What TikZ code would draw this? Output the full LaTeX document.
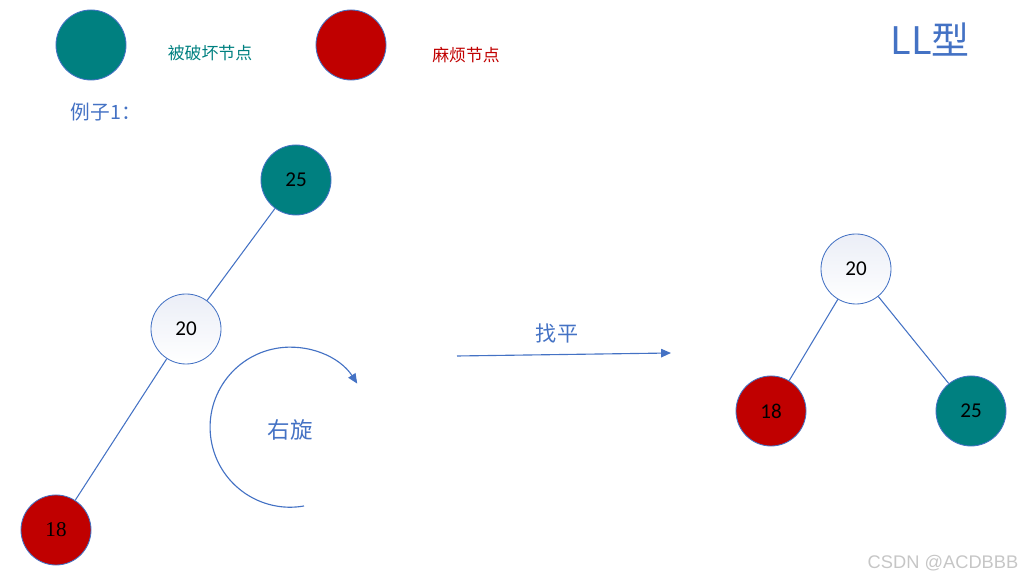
\documentclass[tikz,border=0pt]{standalone}
\usepackage{fontspec}
\setmainfont{Carlito}
\newfontfamily\cjk{Noto Sans CJK SC}
\newfontfamily\numserif{Liberation Serif}
\newfontfamily\wmfont{Liberation Sans}
\usetikzlibrary{arrows.meta,positioning}

\definecolor{broken}{HTML}{008080}
\definecolor{trouble}{HTML}{C00000}
\definecolor{lineblue}{HTML}{4472C4}
\definecolor{paleblue}{HTML}{EBEEF7}

\begin{document}
\begin{tikzpicture}[
  x=0.025cm, y=0.025cm,
  >={Triangle[length=7pt, width=6pt]},
  circ/.style={draw=lineblue, line width=0.6pt, circle, minimum size=1.75cm, inner sep=0pt, font=\fontsize{15}{15}\selectfont},
  brokennode/.style={circ, fill=broken},
  troublenode/.style={circ, fill=trouble},
  plainnode/.style={circ, top color=paleblue, bottom color=white},
  edge/.style={draw=lineblue, line width=0.75pt},
  arrow/.style={->, draw=lineblue, line width=0.8pt},
  caption/.style={font=\cjk\fontsize{12}{12}\selectfont}
]
  \useasboundingbox (0,0) rectangle (1032,582);

  %--- legend
  \node[brokennode]  (keybroken)  at (91,537)  {};
  \node[caption, text=broken] (keybrokentxt) at (210,529) {被破坏节点};
  \node[troublenode] (keytrouble) at (351,537) {};
  \node[caption, text=trouble] (keytroubletxt) at (466,527) {麻烦节点};

  %--- titles
  \node[font=\cjk\fontsize{27}{27}\selectfont, text=lineblue] (title) at (930,542) {LL型};
  \node[font=\cjk\fontsize{14}{14}\selectfont, text=lineblue, anchor=west] (example) at (66,470) {例子1：};

  %============ BEFORE ============%
  \node[brokennode]  (ltop) at (296,402) {25};
  \node[plainnode]   (lmid) at (186,253) {20};
  \node[troublenode] (llow) at (56,52)   {\numserif 18};
  \draw[edge] (ltop) -- (lmid);
  \draw[edge] (lmid) -- (llow);

  % right rotation
  \coordinate (rotstart) at (304,76);
  \draw[arrow] (rotstart) arc[start angle=280, end angle=33, radius=2cm];
  \node[font=\cjk\fontsize{16}{16}\selectfont, text=lineblue] (rottxt) at (290,152) {右旋};

  %============ STEP ==============%
  \coordinate (flatstart) at (457,226);
  \coordinate (flatend)   at (671,229);
  \draw[arrow] (flatstart) -- (flatend);
  \node[font=\cjk\fontsize{15}{15}\selectfont, text=lineblue] (flattxt) at (557,249) {找平};

  %============ AFTER =============%
  \node[plainnode]   (rtop)   at (856,313) {20};
  \node[troublenode] (rleft)  at (771,171) {18};
  \node[brokennode]  (rright) at (971,171) {25};
  \draw[edge] (rtop) -- (rleft);
  \draw[edge] (rtop) -- (rright);

  %--- watermark
  \node[font=\wmfont\fontsize{13}{13}\selectfont, text=gray!45] (mark) at (943,19) {CSDN @ACDBBB};
\end{tikzpicture}
\end{document}
